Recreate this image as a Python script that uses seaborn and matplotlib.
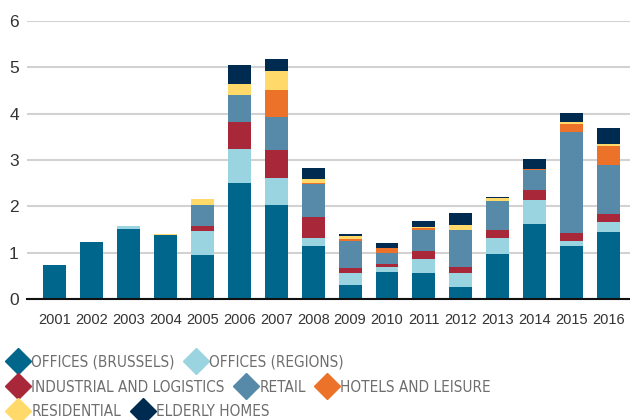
import matplotlib
matplotlib.use("Agg")
import matplotlib.pyplot as plt
from matplotlib.lines import Line2D
from matplotlib import font_manager
import seaborn as sns
import pandas as pd

# Data
years = [str(y) for y in range(2001, 2017)]
offices_brussels = [0.74, 1.24, 1.52, 1.39, 0.94, 2.51, 2.04, 1.15, 0.31, 0.59, 0.57, 0.27, 0.98, 1.63, 1.15, 1.45]
offices_regions = [0, 0, 0.06, 0, 0.52, 0.73, 0.58, 0.17, 0.26, 0.11, 0.30, 0.30, 0.34, 0.51, 0.11, 0.22]
industrial = [0, 0, 0, 0, 0.11, 0.59, 0.60, 0.44, 0.11, 0.06, 0.17, 0.13, 0.18, 0.22, 0.17, 0.17]
retail = [0, 0, 0, 0, 0.45, 0.58, 0.70, 0.73, 0.57, 0.24, 0.44, 0.80, 0.62, 0.43, 2.18, 1.06]
hotels = [0, 0, 0, 0, 0, 0, 0.60, 0.02, 0.05, 0.11, 0.06, 0, 0, 0.02, 0.17, 0.41]
residential = [0, 0, 0, 0.02, 0.13, 0.24, 0.41, 0.07, 0.06, 0, 0.02, 0.10, 0.05, 0, 0.05, 0.04]
elderly = [0, 0, 0, 0, 0, 0.39, 0.24, 0.25, 0.05, 0.11, 0.13, 0.26, 0.04, 0.22, 0.19, 0.35]

sectors = ["OFFICES (BRUSSELS)", "OFFICES (REGIONS)", "INDUSTRIAL AND LOGISTICS", "RETAIL",
           "HOTELS AND LEISURE", "RESIDENTIAL", "ELDERLY HOMES"]
series = [offices_brussels, offices_regions, industrial, retail, hotels, residential, elderly]
colors = ["#00668c", "#99d4e0", "#a8283a", "#5789a8", "#ec7229", "#ffd96a", "#002b50"]

sns.set_style("white")
plt.rcParams["font.family"] = ["Liberation Sans", "DejaVu Sans"]

# look for an upright narrow font for the legend, the original uses a condensed face
narrow = None
for f in font_manager.fontManager.ttflist:
    is_narrow = "Narrow" in f.name or "Condensed" in f.name or f.stretch in ("condensed", "semi-condensed", 75, 87.5)
    if is_narrow and f.style == "normal" and f.weight in ("normal", "regular", 400, "book"):
        narrow = f
        break
if narrow is not None:
    leg_prop = font_manager.FontProperties(fname=narrow.fname, size=11)
else:
    leg_prop = font_manager.FontProperties(family="Liberation Sans", size=11)

fig = plt.figure(figsize=(6.3, 4.2), dpi=100)
ax = fig.add_axes([0.043, 0.288, 0.957, 0.662])

bottom = [0.0] * len(years)
for name, vals, col in zip(sectors, series, colors):
    df = pd.DataFrame({"year": years, "value": vals})
    sns.barplot(data=df, x="year", y="value", color=col, width=0.62, errorbar=None,
                bottom=bottom, linewidth=0, saturation=1, ax=ax)
    bottom = [b + v for b, v in zip(bottom, vals)]

ax.set_ylim(0, 6)
ax.set_xlim(-0.745, 15.58)
ax.set_yticks(range(0, 7))
ax.yaxis.grid(True, color="#d2d2d2", linewidth=1.5)
ax.set_axisbelow(True)
for s in ["top", "right", "left"]:
    ax.spines[s].set_visible(False)
ax.spines["bottom"].set_color("#111111")
ax.spines["bottom"].set_linewidth(1.5)
ax.set_xlabel("")
ax.set_ylabel("")
ax.tick_params(axis="y", length=0, pad=6, labelsize=12.5, labelcolor="#333333")
ax.tick_params(axis="x", length=0, pad=10, labelsize=10.5, labelcolor="#333333")

# Legend in three flowing rows
rows = [[0, 1], [2, 3, 4], [5, 6]]
row_y = [1 - 362 / 420, 1 - 387 / 420, 1 - 412 / 420]
for idx, y in zip(rows, row_y):
    handles = [Line2D([], [], marker="D", ls="", color=colors[i], markersize=13) for i in idx]
    labels = [sectors[i] for i in idx]
    leg = fig.legend(handles, labels, loc="center left", bbox_to_anchor=(0.005, y), ncol=len(idx),
                     frameon=False, borderpad=0, handlelength=1.0, handletextpad=0.35,
                     columnspacing=0.9, prop=leg_prop)
    for t in leg.get_texts():
        t.set_color("#6e6e6e")

fig.savefig("out.png", dpi=100)
